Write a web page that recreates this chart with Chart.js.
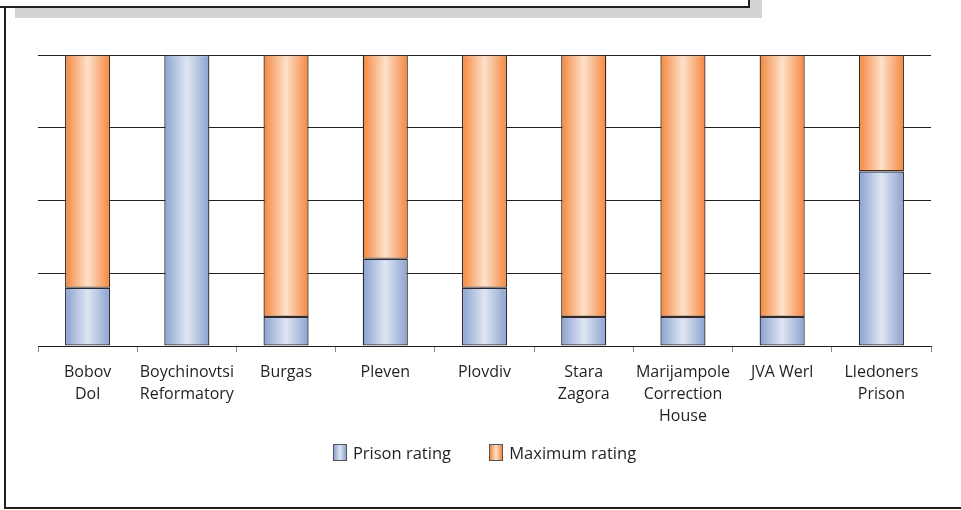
<!DOCTYPE html>
<html>
<head>
<meta charset="utf-8">
<script src="https://cdn.jsdelivr.net/npm/chart.js@4.4.0/dist/chart.umd.min.js"></script>
<style>
    body { margin: 0; background: #fff; }
    #wrap { position: relative; width: 961px; height: 510px; overflow: hidden; font-family: "Open Sans", "Liberation Sans", sans-serif; }
    #chart { position: absolute; left: 0; top: 0; }
    .shadow { position: absolute; left: 15px; top: 0; width: 747px; height: 18px; background: #d1d3d4; }
    .topbox { position: absolute; left: 0; top: -2px; width: 748px; height: 8px; background: #fff; border-right: 2px solid #231f20; border-bottom: 2px solid #231f20; }
    .leftline { position: absolute; left: 4px; top: 6px; width: 2px; height: 503px; background: #231f20; }
    .bottomline { position: absolute; left: 4px; top: 507px; width: 957px; height: 2px; background: #231f20; }
    #legend { position: absolute; top: 441px; left: 4px; width: 961px; text-align: center; font-size: 16.5px; color: #231f20; }
    .item { display: inline-block; margin: 0 17px; }
    .box { display: inline-block; width: 12px; height: 15px; border: 1px solid #555; vertical-align: -2px; margin-right: 6px; }
    .blue { background: linear-gradient(to right, #8aa2cf, #dfe6f3 50%, #8aa2cf); }
    .orange { background: linear-gradient(to right, #f5863c, #fde1cb 50%, #f5863c); }
</style>
</head>
<body>
<div id="wrap">
    <div class="shadow"></div>
    <div class="topbox"></div>
    <div class="leftline"></div>
    <div class="bottomline"></div>
    <canvas id="chart" width="961" height="510"></canvas>
    <div id="legend">
        <span class="item"><span class="box blue"></span>Prison rating</span>
        <span class="item"><span class="box orange"></span>Maximum rating</span>
    </div>
</div>
<script>
// Prison names (multi-line labels)
const prisons = [
    ['Bobov', 'Dol'],
    ['Boychinovtsi', 'Reformatory'],
    ['Burgas'],
    ['Pleven'],
    ['Plovdiv'],
    ['Stara', 'Zagora'],
    ['Marijampole', 'Correction', 'House'],
    ['JVA Werl'],
    ['Lledoners', 'Prison']
];

// Ratings out of 10
const prisonRating = [2, 10, 1, 3, 2, 1, 1, 1, 6];
const maximumRating = [8, 0, 9, 7, 8, 9, 9, 9, 4];

const BAR_PCT = 0.455;

function barGradient(edge, mid) {
    return function(context) {
        const chart = context.chart;
        const area = chart.chartArea;
        if (!area) return edge;
        const xScale = chart.scales.x;
        const cx = xScale.getPixelForValue(context.dataIndex);
        const w = (area.width / prisons.length) * BAR_PCT;
        const g = chart.ctx.createLinearGradient(cx - w / 2, 0, cx + w / 2, 0);
        g.addColorStop(0, edge);
        g.addColorStop(0.5, mid);
        g.addColorStop(1, edge);
        return g;
    };
}

const ctx = document.getElementById('chart');

new Chart(ctx, {
    type: 'bar',
    data: {
        labels: prisons,
        datasets: [
            {
                label: 'Prison rating',
                data: prisonRating,
                backgroundColor: barGradient('#8aa2cf', '#dfe6f3'),
                borderColor: '#2a2a36',
                borderWidth: 1.3,
                borderSkipped: false
            },
            {
                label: 'Maximum rating',
                data: maximumRating,
                backgroundColor: barGradient('#f5863c', '#fde1cb'),
                borderColor: '#3a2a20',
                borderWidth: 1.3,
                borderSkipped: false
            }
        ]
    },
    options: {
        responsive: false,
        animation: false,
        layout: {
            padding: { left: 38, right: 30, top: 55, bottom: 0 }
        },
        datasets: {
            bar: {
                barPercentage: BAR_PCT,
                categoryPercentage: 1
            }
        },
        plugins: {
            legend: { display: false },
            tooltip: { enabled: false }
        },
        scales: {
            x: {
                stacked: true,
                afterFit: (scale) => { scale.height = 164; },
                border: { display: true, color: '#231f20', width: 1 },
                grid: {
                    offset: true,
                    drawOnChartArea: false,
                    drawTicks: true,
                    tickLength: 6,
                    color: '#8a8a8a'
                },
                ticks: {
                    color: '#231f20',
                    padding: 9,
                    maxRotation: 0,
                    autoSkip: false,
                    font: { family: '"Open Sans", "Liberation Sans", sans-serif', size: 16, lineHeight: 1.375 }
                }
            },
            y: {
                stacked: true,
                min: 0,
                max: 10,
                afterFit: (scale) => { scale.width = 0; },
                border: { display: false },
                grid: {
                    color: '#231f20',
                    lineWidth: 1,
                    drawTicks: false
                },
                ticks: { display: false, stepSize: 2.5 }
            }
        }
    }
});
</script>
</body>
</html>
